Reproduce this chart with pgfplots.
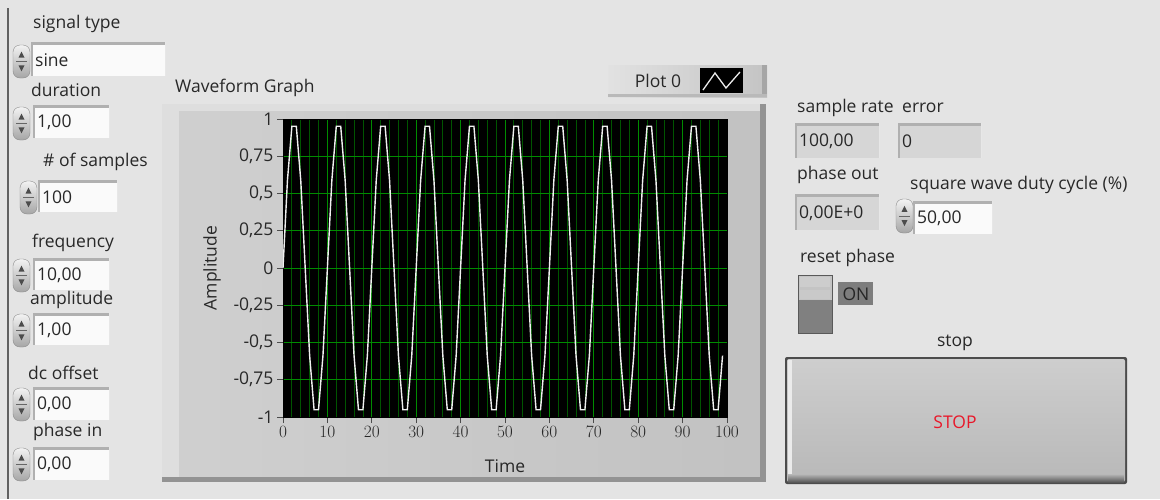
\documentclass[border=0pt]{standalone}
\usepackage{pgfplots}
\pgfplotsset{compat=1.18}
\usepackage{fontspec}
\setmainfont{Open Sans}

\definecolor{panel}{RGB}{228,228,228}
\definecolor{boxwhite}{RGB}{250,250,250}
\definecolor{indgray}{RGB}{214,214,214}
\definecolor{bevel}{RGB}{176,176,176}
\definecolor{framegray}{RGB}{206,206,206}
\definecolor{framelight}{RGB}{222,222,222}
\definecolor{txt}{RGB}{40,40,40}
\definecolor{gridgreen}{RGB}{0,140,0}
\definecolor{minorgreen}{RGB}{0,85,0}
\definecolor{stopred}{RGB}{232,24,42}
\definecolor{swlight}{RGB}{196,196,196}
\definecolor{swdark}{RGB}{128,128,128}
\definecolor{onbox}{RGB}{125,125,125}
\definecolor{btntop}{RGB}{206,206,206}
\definecolor{btnbot}{RGB}{184,184,184}

\newcommand\lv{\fontsize{17.5}{20}\selectfont}

% label text
\newcommand\lab[3]{\node[anchor=west,font=\lv,text=txt,inner sep=0pt] at (#1,#2) {#3};}
% inset box: x1 y1 x2 y2 fill text
\newcommand\ibox[6]{%
  \fill[#5] (#1,#2) rectangle (#3,#4);
  \fill[bevel] (#1,#2) rectangle (#3,#2+3);
  \fill[bevel] (#1,#2) rectangle (#1+2,#4);
  \fill[white!70!bevel] (#3-1,#2) rectangle (#3,#4);
  \node[anchor=west,font=\lv,text=txt,inner sep=0pt] at (#1+4,{(#2+#4)/2+1}) {#6};}
% spinner: x y h
\newcommand\spin[3]{%
  \shade[top color=white!90!gray,bottom color=gray!70,draw=gray!90,rounded corners=7pt]
    (#1,#2) rectangle (#1+17,#2+#3);
  \draw[gray!80!black] (#1+3,{#2+#3/2}) -- (#1+14,{#2+#3/2});
  \fill[gray!60!black] (#1+5.5,{#2+0.38*#3}) -- (#1+8.5,{#2+0.2*#3}) -- (#1+11.5,{#2+0.38*#3}) -- cycle;
  \fill[gray!60!black] (#1+5.5,{#2+0.62*#3}) -- (#1+8.5,{#2+0.8*#3}) -- (#1+11.5,{#2+0.62*#3}) -- cycle;}

\begin{document}
\begin{tikzpicture}
\useasboundingbox (0,0) rectangle (1160pt,-499pt);
\begin{scope}[x=1pt,y=-1pt]
  \fill[panel] (0,0) rectangle (1160,499);
  \draw[gray!75!black,line width=1.2pt] (8,8) -- (8,499);

  % left controls
  \lab{33}{24}{signal type}
  \spin{13}{45}{33}
  \ibox{31}{42}{166}{76}{boxwhite}{sine}
  \lab{31}{90}{duration}
  \spin{13}{107}{33}
  \ibox{33}{105}{110}{138}{boxwhite}{1,00}
  \lab{43}{162}{\# of samples}
  \spin{20}{181}{33}
  \ibox{38}{180}{118}{212}{boxwhite}{100}
  \lab{32}{243}{frequency}
  \spin{13}{259}{33}
  \ibox{33}{258}{110}{290}{boxwhite}{10,00}
  \lab{30}{300}{amplitude}
  \spin{13}{314}{33}
  \ibox{33}{313}{110}{345}{boxwhite}{1,00}
  \lab{28}{373}{dc offset}
  \spin{13}{388}{33}
  \ibox{33}{387}{110}{420}{boxwhite}{0,00}
  \lab{33}{432}{phase in}
  \spin{13}{448}{33}
  \ibox{33}{447}{110}{480}{boxwhite}{0,00}

  % graph label and frame
  \lab{175}{88}{Waveform Graph}
  \fill[framelight] (162,104) rectangle (766,482);
  \shade[left color=framegray!97!white,right color=framegray!94!black] (179,111) rectangle (760,477);
  \fill[gray!85] (760,104) rectangle (766,482);
  \fill[gray!85] (162,477) rectangle (766,482);

  % plot legend
  \shade[left color=white!40!framegray,right color=framegray!95!black] (608,65) rectangle (767,97);
  \fill[gray!70] (762,65) rectangle (767,97);
  \fill[gray!55] (608,94) rectangle (767,97);
  \node[font=\lv,text=txt,inner sep=0pt] at (658,81) {Plot 0};
  \fill[black] (700,68) rectangle (743,93);
  \draw[white!85!gray,line width=1.3pt] (703,90) -- (715,73) -- (726,88) -- (740,72);

  % right side indicators
  \lab{797}{108}{sample rate}
  \lab{902}{108}{error}
  \ibox{795}{123}{880}{158}{indgray}{100,00}
  \ibox{898}{123}{982}{158}{indgray}{0}
  \lab{797}{175}{phase out}
  \ibox{795}{194}{880}{230}{indgray}{0,00E+0}
  \lab{910}{185}{square wave duty cycle (\%)}
  \spin{896}{199}{34}
  \ibox{913}{201}{993}{234}{boxwhite}{50,00}

  % reset phase switch
  \lab{800}{258}{reset phase}
  \fill[swlight] (798,275) rectangle (832,300);
  \fill[swlight!85!white] (800,277) rectangle (830,287);
  \fill[swlight!92!white] (800,290) rectangle (830,299);
  \fill[swdark] (798,300) rectangle (832,333);
  \draw[gray!70!black,line width=1pt] (798,275) rectangle (832,333);
  \fill[onbox] (838,282) rectangle (873,305);
  \node[font=\lv,text=black!85,inner sep=0pt] at (856,294) {ON};

  % stop button
  \node[font=\lv,text=txt,inner sep=0pt] at (955,343) {stop};
  \fill[gray!60!black,rounded corners=2pt] (785,357) rectangle (1127,484);
  \shade[top color=btntop,bottom color=btnbot,rounded corners=2pt] (787,359) rectangle (1125,482);
  \fill[white!60!btntop] (788,360) rectangle (792,478);
  \shade[top color=btnbot,bottom color=gray!70!black] (788,474) rectangle (1124,482);
  \node[font=\lv,text=stopred,inner sep=0pt] at (955,422) {STOP};
\end{scope}

\begin{axis}[
    at={(283pt,-119pt)}, anchor=north west,
    width=444pt, height=298pt, scale only axis,
    xmin=0, xmax=100, ymin=-1, ymax=1,
    axis background/.style={fill=black},
    axis line style={black},
    xtick={0,10,...,100},
    minor x tick num=4,
    ytick={-1,-0.75,-0.5,-0.25,0,0.25,0.5,0.75,1},
    yticklabels={-1,{-0,75},{-0,5},{-0,25},0,{0,25},{0,5},{0,75},1},
    xtick pos=bottom, ytick pos=left,
    tick align=outside,
    major tick length=6pt, minor tick length=0pt,
    tick style={color=gray!60!black, line width=1pt},
    grid=both,
    major grid style={color=gridgreen, line width=1pt},
    minor grid style={color=minorgreen, line width=0.8pt},
    ticklabel style={font=\lv, text=txt},
    xlabel={Time}, ylabel={Amplitude},
    label style={font=\lv, text=txt},
    xlabel style={at={(axis description cs:0.5,-0.165)}, anchor=center},
    ylabel style={at={(axis description cs:-0.16,0.5)}, anchor=center},
  ]
  \addplot[color=white!88!gray, line width=1.4pt, mark=none] coordinates {
  (0,0)(1,0.5878)(2,0.9511)(3,0.9511)(4,0.5878)(5,0)(6,-0.5878)(7,-0.9511)(8,-0.9511)(9,-0.5878)
  (10,0)(11,0.5878)(12,0.9511)(13,0.9511)(14,0.5878)(15,0)(16,-0.5878)(17,-0.9511)(18,-0.9511)(19,-0.5878)
  (20,0)(21,0.5878)(22,0.9511)(23,0.9511)(24,0.5878)(25,0)(26,-0.5878)(27,-0.9511)(28,-0.9511)(29,-0.5878)
  (30,0)(31,0.5878)(32,0.9511)(33,0.9511)(34,0.5878)(35,0)(36,-0.5878)(37,-0.9511)(38,-0.9511)(39,-0.5878)
  (40,0)(41,0.5878)(42,0.9511)(43,0.9511)(44,0.5878)(45,0)(46,-0.5878)(47,-0.9511)(48,-0.9511)(49,-0.5878)
  (50,0)(51,0.5878)(52,0.9511)(53,0.9511)(54,0.5878)(55,0)(56,-0.5878)(57,-0.9511)(58,-0.9511)(59,-0.5878)
  (60,0)(61,0.5878)(62,0.9511)(63,0.9511)(64,0.5878)(65,0)(66,-0.5878)(67,-0.9511)(68,-0.9511)(69,-0.5878)
  (70,0)(71,0.5878)(72,0.9511)(73,0.9511)(74,0.5878)(75,0)(76,-0.5878)(77,-0.9511)(78,-0.9511)(79,-0.5878)
  (80,0)(81,0.5878)(82,0.9511)(83,0.9511)(84,0.5878)(85,0)(86,-0.5878)(87,-0.9511)(88,-0.9511)(89,-0.5878)
  (90,0)(91,0.5878)(92,0.9511)(93,0.9511)(94,0.5878)(95,0)(96,-0.5878)(97,-0.9511)(98,-0.9511)(99,-0.5878)
  };
\end{axis}
\end{tikzpicture}
\end{document}
